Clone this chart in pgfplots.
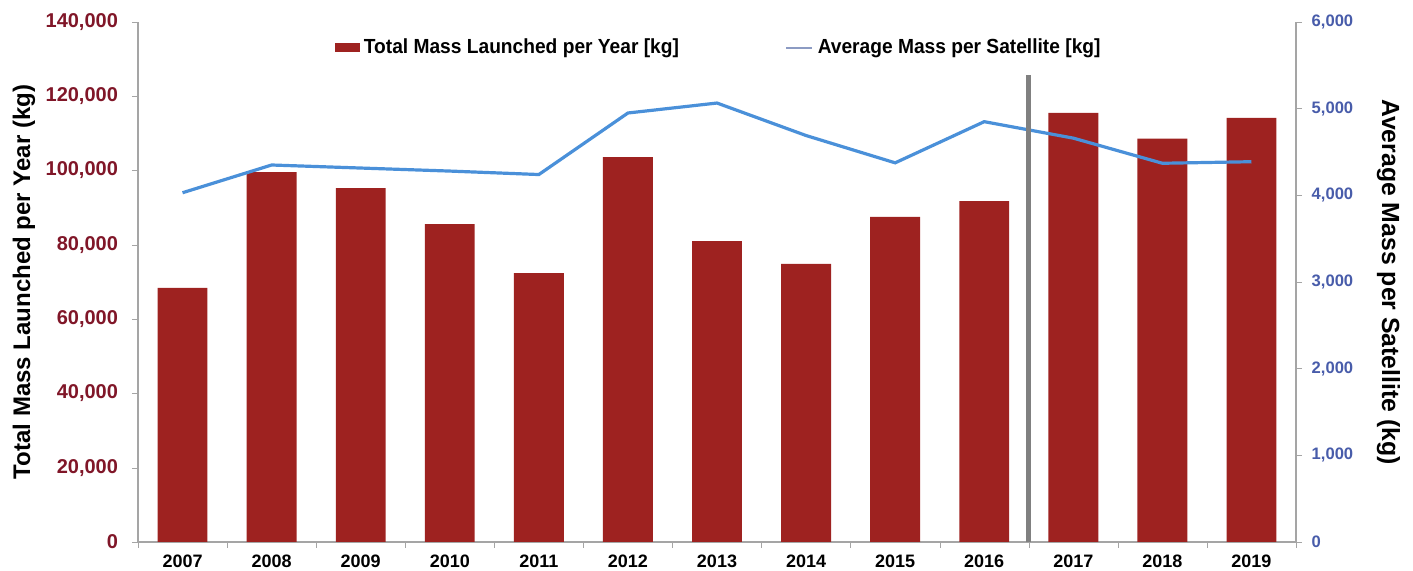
\documentclass[border=0pt]{standalone}
\usepackage{fontspec}
\setmainfont{Liberation Sans}
\newfontfamily\legfont[FakeStretch=0.94]{Liberation Sans}
\usepackage{pgfplots}
\pgfplotsset{compat=1.18}
\definecolor{barred}{RGB}{158,34,32}
\definecolor{lineblue}{RGB}{74,144,217}
\definecolor{lefttick}{RGB}{128,22,40}
\definecolor{righttick}{RGB}{72,92,170}
\definecolor{axisgray}{RGB}{165,165,165}
\definecolor{divgray}{RGB}{128,128,128}
\begin{document}
\begin{tikzpicture}
\begin{axis}[
  width=579pt, height=260pt, scale only axis,
  xmin=-0.5, xmax=12.5, ymin=0, ymax=140000,
  axis x line*=bottom, axis y line*=left,
  axis line style={axisgray, line width=0.6pt, -},
  xtick={0,1,2,3,4,5,6,7,8,9,10,11,12},
  xticklabels={2007,2008,2009,2010,2011,2012,2013,2014,2015,2016,2017,2018,2019},
  major x tick style={draw=none},
  minor xtick={-0.5,0.5,1.5,2.5,3.5,4.5,5.5,6.5,7.5,8.5,9.5,10.5,11.5,12.5},
  minor x tick style={axisgray},
  minor tick length=3pt,
  major tick length=3pt,
  tick align=outside,
  y tick style={axisgray},
  xticklabel style={font=\bfseries\fontsize{9}{10}\selectfont, text=black},
  ytick={0,20000,40000,60000,80000,100000,120000,140000},
  yticklabels={0,{20,000},{40,000},{60,000},{80,000},{100,000},{120,000},{140,000}},
  scaled y ticks=false,
  yticklabel style={text=lefttick, font=\bfseries\fontsize{10}{11}\selectfont, xshift=-3.5pt},
  ylabel={Total Mass Launched per Year (kg)},
  ylabel style={at={(axis description cs:-0.0984,0.5)}, anchor=center, font=\bfseries\fontsize{12}{13}\selectfont},
  legend style={at={(0.1645,0.95)}, anchor=west, draw=none, fill=none,
    legend columns=2, font=\legfont\bfseries\fontsize{10.2}{11}\selectfont,
    /tikz/every even column/.append style={column sep=51pt}},
  legend cell align=left,
]
\addplot[ybar, bar width=0.56, fill=barred, draw=none,
  legend image code/.code={\fill[barred] (0pt,-2.2pt) rectangle (12.5pt,2.3pt);}]
  coordinates {(0,68400) (1,99600) (2,95300) (3,85600) (4,72400) (5,103600) (6,81000)
               (7,74900) (8,87500) (9,91800) (10,115500) (11,108600) (12,114200)};
\addlegendentry{Total Mass Launched per Year [kg]}
\addlegendimage{legend image code/.code={\draw[color={rgb,255:red,140;green,155;blue,195}, line width=1.4pt] (0pt,0pt) -- (13pt,0pt);}}
\addlegendentry{Average Mass per Satellite [kg]}
\end{axis}
\begin{axis}[
  width=579pt, height=260pt, scale only axis,
  xmin=-0.5, xmax=12.5, ymin=0, ymax=6000,
  axis y line*=right, axis x line=none,
  axis line style={axisgray, line width=0.6pt, -},
  major tick length=3pt, tick align=outside,
  y tick style={axisgray},
  ytick={0,1000,2000,3000,4000,5000,6000},
  yticklabels={0,{1,000},{2,000},{3,000},{4,000},{5,000},{6,000}},
  scaled y ticks=false,
  yticklabel style={text=righttick, font=\bfseries\fontsize{8.3}{10}\selectfont, xshift=1.3pt},
  ylabel={Average Mass per Satellite (kg)},
  ylabel style={at={(axis description cs:1.0799,0.5)}, anchor=center, rotate=180, font=\bfseries\fontsize{12.4}{13}\selectfont},
]
\addplot[lineblue, line width=1.6pt] coordinates {(0,4030) (1,4350) (2,4315) (3,4280) (4,4240) (5,4950) (6,5065)
  (7,4690) (8,4375) (9,4850) (10,4660) (11,4370) (12,4388)};
\addplot[divgray, line width=2.5pt] coordinates {(9.5,0) (9.5,5390)};
\end{axis}
\pgfresetboundingbox
\path (-69pt,-14.5pt) rectangle (637.5pt,271pt);
\end{tikzpicture}
\end{document}
